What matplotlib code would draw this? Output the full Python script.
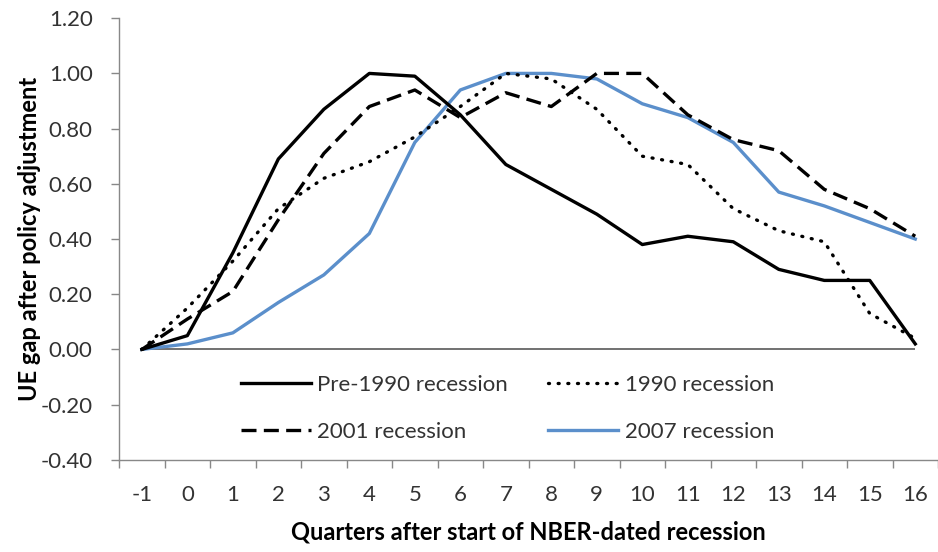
import matplotlib
matplotlib.use("Agg")
import matplotlib.pyplot as plt
import numpy as np

quarters = [-1, 0, 1, 2, 3, 4, 5, 6, 7, 8, 9, 10, 11, 12, 13, 14, 15, 16]
pre1990 = [0.00, 0.05, 0.35, 0.69, 0.87, 1.00, 0.99, 0.85, 0.67, 0.58, 0.49, 0.38, 0.41, 0.39, 0.29, 0.25, 0.25, 0.02]
rec1990 = [0.00, 0.15, 0.32, 0.51, 0.62, 0.68, 0.77, 0.88, 1.00, 0.98, 0.87, 0.70, 0.67, 0.51, 0.43, 0.39, 0.13, 0.04]
rec2001 = [0.00, 0.11, 0.21, 0.47, 0.71, 0.88, 0.94, 0.84, 0.93, 0.88, 1.00, 1.00, 0.85, 0.76, 0.72, 0.58, 0.51, 0.41]
rec2007 = [0.00, 0.02, 0.06, 0.17, 0.27, 0.42, 0.75, 0.94, 1.00, 1.00, 0.98, 0.89, 0.84, 0.75, 0.57, 0.52, 0.46, 0.40]
yticks = [-0.4, -0.2, 0.0, 0.2, 0.4, 0.6, 0.8, 1.0, 1.2]

plt.rcParams['font.family'] = ['Lato', 'DejaVu Sans']
TXT = '#333333'

fig = plt.figure(figsize=(9.38, 5.52), dpi=100)
ax = fig.add_axes([0.127, 0.167, 0.873, 0.800])

x = np.arange(len(quarters))
lw = 2.4
ax.hlines(0, x[0], x[-1], color='#595959', lw=1.2, zorder=1)
h_pre, = ax.plot(x, pre1990, color='black', lw=lw, label='Pre-1990 recession', zorder=3)
h_90, = ax.plot(x, rec1990, color='black', lw=lw, linestyle=(0, (0.3, 2.6)), dash_capstyle='round',
                label='1990 recession', zorder=3)
h_01, = ax.plot(x, rec2001, color='black', lw=lw, linestyle=(0, (4.5, 2.2)), label='2001 recession', zorder=3)
h_07, = ax.plot(x, rec2007, color='#5B8FCB', lw=lw, label='2007 recession', zorder=2)

ax.set_xlim(-0.5, len(quarters) - 0.5)
ax.set_ylim(-0.4, 1.2)
ax.set_yticks(yticks)
ax.set_yticklabels([f"{v:.2f}" for v in yticks])
ax.set_xticks(x)
ax.set_xticklabels([str(q) for q in quarters])
ax.set_xticks(np.arange(len(quarters) + 1) - 0.5, minor=True)
ax.tick_params(axis='x', which='major', length=0, pad=18, labelsize=16, labelcolor=TXT)
ax.tick_params(axis='x', which='minor', length=6, color='#888888', width=1)
ax.tick_params(axis='y', length=6, color='#888888', width=1, labelsize=16, pad=13, labelcolor=TXT)

for s in ['top', 'right']:
    ax.spines[s].set_visible(False)
ax.spines['left'].set_color('#888888')
ax.spines['bottom'].set_color('#888888')
ax.spines['left'].set_linewidth(1)
ax.spines['bottom'].set_linewidth(1)

ax.set_xlabel('Quarters after start of NBER-dated recession', fontsize=17, fontweight='bold',
              labelpad=11, color='black')
ax.set_ylabel('UE gap after policy adjustment', fontsize=17, fontweight='bold', labelpad=0, color='black')

handles = [h_pre, h_01, h_90, h_07]
labels = [h.get_label() for h in handles]
leg = ax.legend(handles, labels, ncol=2, loc='center', bbox_to_anchor=(0.474, 0.1165), frameon=False,
                fontsize=16, handlelength=3.15, handletextpad=0.3, columnspacing=1.8,
                labelspacing=1.2, borderpad=0)
for t in leg.get_texts():
    t.set_color(TXT)

fig.savefig('out.png', dpi=100)
